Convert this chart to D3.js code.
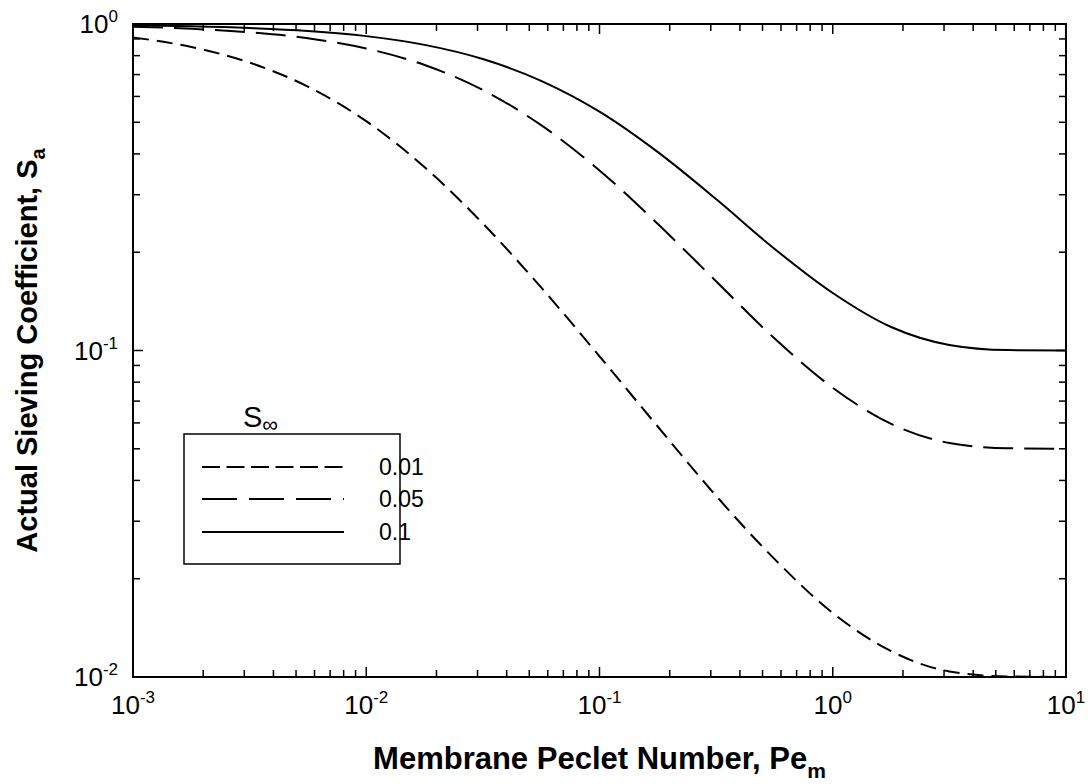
<!DOCTYPE html>
<html>
<head>
<meta charset="utf-8">
<script src="https://cdn.jsdelivr.net/npm/d3@7"></script>
<style>
  body { margin: 0; background: #fff; }
  svg text { font-family: "Liberation Sans", Arial, sans-serif; fill: #000; }
</style>
</head>
<body>
<div id="chart"></div>
<script>
/* ── data ── */
const peValues = [0.001, 0.00178, 0.00316, 0.00562, 0.01, 0.0178, 0.0316, 0.0562,
                  0.1, 0.178, 0.316, 0.562, 1, 1.78, 3.16, 5.62, 10];

const sa001 = [0.910, 0.850, 0.762, 0.643, 0.504, 0.364, 0.245, 0.156,
               0.0960, 0.0584, 0.0359, 0.0230, 0.0157, 0.0120, 0.0104, 0.01004, 0.0100];
const sa005 = [0.981, 0.967, 0.943, 0.904, 0.841, 0.749, 0.628, 0.490,
               0.356, 0.244, 0.163, 0.109, 0.0769, 0.0596, 0.0521, 0.0502, 0.0500];
const sa01  = [0.991, 0.984, 0.972, 0.952, 0.918, 0.863, 0.781, 0.670,
               0.539, 0.405, 0.291, 0.205, 0.150, 0.118, 0.104, 0.1003, 0.1000];

const seriesNames = ['0.01', '0.05', '0.1'];
const xDecades = [-3, -2, -1, 0, 1];
const yDecades = [-2, -1, 0];

const W = 1088, H = 784;
const L = 133, R = 1066, T = 24, B = 677;
const MAJ = 10, MIN = 7;

const dashes = ['16,8', '30,11', null];
const series = [sa001, sa005, sa01];

const svg = d3.select('#chart').append('svg')
    .attr('width', W).attr('height', H);

const x = d3.scaleLog().domain([1e-3, 10]).range([L, R]);
const y = d3.scaleLog().domain([0.01, 1]).range([B, T]);

svg.append('defs').append('clipPath').attr('id', 'plot-clip')
  .append('rect').attr('x', L).attr('y', T - 2).attr('width', R - L).attr('height', B - T + 4);

/* ── curves ── */
const line = d3.line()
    .x(d => x(d[0]))
    .y(d => y(d[1]))
    .curve(d3.curveMonotoneX);

const curves = svg.append('g').attr('clip-path', 'url(#plot-clip)');
series.forEach((vals, i) => {
    curves.append('path')
        .datum(peValues.map((p, j) => [p, vals[j]]))
        .attr('d', line)
        .attr('fill', 'none')
        .attr('stroke', '#000')
        .attr('stroke-width', 2)
        .attr('stroke-dasharray', dashes[i]);
});

/* ── ticks (inward on all four sides) ── */
const ticksG = svg.append('g').attr('stroke', '#000').attr('stroke-width', 1.5);
function logTicks(decs) {
    const out = [];
    decs.forEach((k, i) => {
        out.push({ v: Math.pow(10, k), major: true });
        if (i < decs.length - 1) for (let m = 2; m <= 9; m++) out.push({ v: m * Math.pow(10, k), major: false });
    });
    return out;
}
logTicks(xDecades).forEach(t => {
    const px = x(t.v), len = t.major ? MAJ : MIN;
    ticksG.append('line').attr('x1', px).attr('x2', px).attr('y1', B).attr('y2', B - len);
    ticksG.append('line').attr('x1', px).attr('x2', px).attr('y1', T).attr('y2', T + len);
});
logTicks(yDecades).forEach(t => {
    const py = y(t.v), len = t.major ? MAJ : MIN;
    ticksG.append('line').attr('x1', L).attr('x2', L + len).attr('y1', py).attr('y2', py);
    ticksG.append('line').attr('x1', R).attr('x2', R - len).attr('y1', py).attr('y2', py);
});

svg.append('rect')
    .attr('x', L).attr('y', T).attr('width', R - L).attr('height', B - T)
    .attr('fill', 'none').attr('stroke', '#000').attr('stroke-width', 2);

/* ── tick labels ── */
xDecades.forEach(k => {
    const t = svg.append('text')
        .attr('x', x(Math.pow(10, k))).attr('y', 714)
        .attr('text-anchor', 'middle').attr('font-size', 26);
    t.append('tspan').text('10');
    t.append('tspan').attr('dy', -11).attr('font-size', 17).text(k);
});
yDecades.forEach(k => {
    const t = svg.append('text')
        .attr('x', 118).attr('y', y(Math.pow(10, k)) + 9)
        .attr('text-anchor', 'end').attr('font-size', 26);
    t.append('tspan').text('10');
    t.append('tspan').attr('dy', -11).attr('font-size', 17).text(k);
});

/* ── axis titles ── */
const xt = svg.append('text')
    .attr('x', (L + R) / 2).attr('y', 769)
    .attr('text-anchor', 'middle').attr('font-size', 31).attr('font-weight', 'bold');
xt.append('tspan').text('Membrane Peclet Number, Pe');
xt.append('tspan').attr('dy', 9).attr('font-size', 21).text('m');

const yt = svg.append('text')
    .attr('transform', `translate(37,${(T + B) / 2}) rotate(-90)`)
    .attr('text-anchor', 'middle').attr('font-size', 29).attr('font-weight', 'bold');
yt.append('tspan').text('Actual Sieving Coefficient, S');
yt.append('tspan').attr('dy', 8).attr('font-size', 20).text('a');

/* ── legend ── */
const lg = svg.append('g');
lg.append('rect')
    .attr('x', 184).attr('y', 434).attr('width', 216).attr('height', 130)
    .attr('fill', '#fff').attr('stroke', '#000').attr('stroke-width', 1.5);
const lt = lg.append('text').attr('x', 243).attr('y', 427).attr('font-size', 29);
lt.append('tspan').text('S');
lt.append('tspan').attr('dy', 5).attr('font-size', 22).text('\u221E');

const rowY = [467, 499, 532];
seriesNames.forEach((name, i) => {
    lg.append('line')
        .attr('x1', 202).attr('x2', 344).attr('y1', rowY[i]).attr('y2', rowY[i])
        .attr('stroke', '#000').attr('stroke-width', 2)
        .attr('stroke-dasharray', i === 0 ? '18,6.5' : i === 1 ? '35,12' : null);
    lg.append('text')
        .attr('x', 379).attr('y', rowY[i] + 8)
        .attr('font-size', 23).text(name);
});
</script>
</body>
</html>
